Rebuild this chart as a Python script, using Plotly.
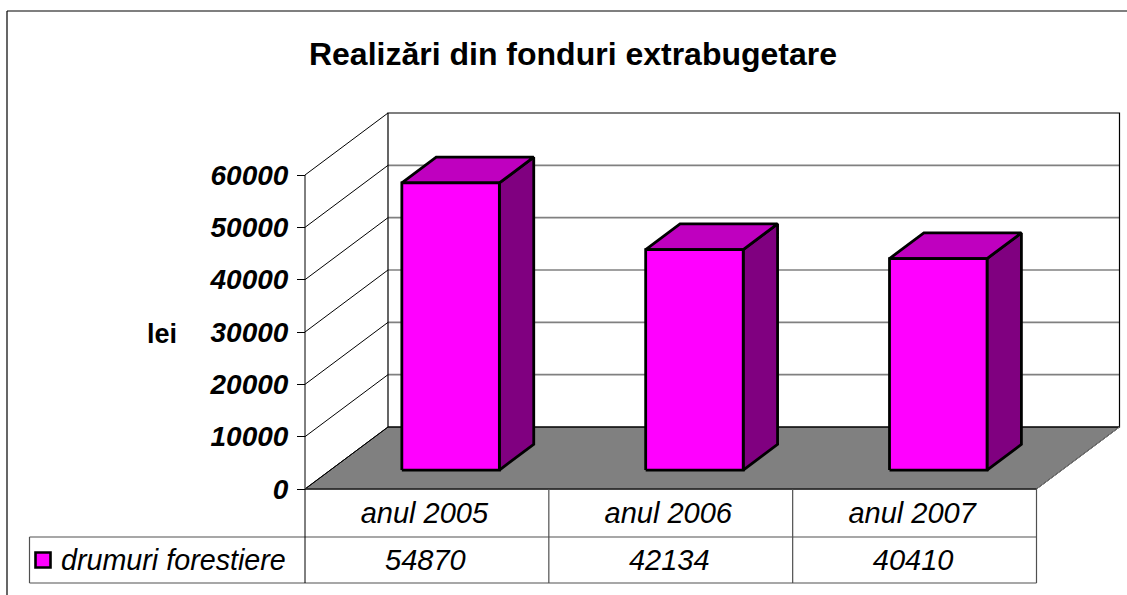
import plotly.graph_objects as go

TITLE = "Realizări din fonduri extrabugetare"
CATEGORIES = ["anul 2005", "anul 2006", "anul 2007"]
SERIES_NAME = "drumuri forestiere"
VALUES = [54870, 42134, 40410]
Y_TICKS = [0, 10000, 20000, 30000, 40000, 50000, 60000]
Y_TITLE = "lei"

W, H = 1127, 595
X0, X1 = 305.0, 1036.5      # pixel span of the category axis
Y0, Y1 = 489.0, 175.0       # pixel span of the value axis
PX_CAT = (X1 - X0) / 3
PX_VAL = (Y0 - Y1) / 60000
DX = 83.0 / PX_CAT          # depth vector, in axis units
DY = 62.0 / PX_VAL
YMAX = Y_TICKS[-1]
BAR_LEFT, BAR_W = 0.293, 0.40
D_FRONT, D_BACK = 0.306, 0.72
ROW1 = -48 / PX_VAL
ROW2 = -94 / PX_VAL
LEG_LEFT = (29.5 - X0) / PX_CAT
BLACK, GRAY = "#000000", "#808080"
FONT = "Liberation Sans"


def proj(c, v, d=0.0):
    return c + d * DX, v + d * DY


fig = go.Figure()


def poly(points, fill=None, color=BLACK, width=1.0):
    xs = [p[0] for p in points]
    ys = [p[1] for p in points]
    kw = dict(fill="toself", fillcolor=fill) if fill else {}
    fig.add_trace(go.Scatter(x=xs, y=ys, mode="lines", hoverinfo="skip",
                             showlegend=False, line=dict(color=color, width=width), **kw))


N = len(CATEGORIES)
# floor
poly([proj(0, 0), proj(N, 0), proj(N, 0, 1), proj(0, 0, 1), proj(0, 0)], fill=GRAY)
# back wall grid
for t in Y_TICKS[1:-1]:
    poly([proj(0, t, 1), proj(N, t, 1)], color=GRAY, width=1.6)
# side wall grid
for t in Y_TICKS[1:]:
    poly([proj(0, t), proj(0, t, 1)], width=1.0)
# wall frame
poly([proj(0, 0, 1), proj(0, YMAX, 1), proj(N, YMAX, 1), proj(N, 0, 1), proj(0, 0, 1)], width=1.2)
poly([proj(0, 0), proj(0, YMAX)])
poly([proj(0, 0), proj(0, 0, 1)])
poly([proj(N, 0), proj(N, 0, 1)], color=GRAY)

# bars
for i, v in enumerate(VALUES):
    l, r = i + BAR_LEFT, i + BAR_LEFT + BAR_W
    lw = 2.8
    poly([proj(r, 0, D_FRONT), proj(r, 0, D_BACK), proj(r, v, D_BACK), proj(r, v, D_FRONT), proj(r, 0, D_FRONT)],
         fill="#800080", width=lw)
    poly([proj(l, v, D_FRONT), proj(r, v, D_FRONT), proj(r, v, D_BACK), proj(l, v, D_BACK), proj(l, v, D_FRONT)],
         fill="#BF00BF", width=lw)
    poly([proj(l, 0, D_FRONT), proj(r, 0, D_FRONT), proj(r, v, D_FRONT), proj(l, v, D_FRONT), proj(l, 0, D_FRONT)],
         fill="#FF00FF", width=lw)

# data table
poly([proj(0, 0), proj(N, 0)], color="#303030", width=1.4)
poly([(LEG_LEFT, ROW1), (N, ROW1)], color="#505050", width=1.2)
poly([(LEG_LEFT, ROW2), (N, ROW2)], color="#505050", width=1.2)
poly([(LEG_LEFT, ROW1), (LEG_LEFT, ROW2)], color="#505050", width=1.2)
poly([(0, 0), (0, ROW2)], width=1.0)
for k in range(1, N + 1):
    poly([(k, 0), (k, ROW2)], color="#505050", width=1.2)

row_mid = (ROW1 + ROW2) / 2 - 3 / PX_VAL
key_mid = (ROW1 + ROW2) / 2
for i, v in enumerate(VALUES):
    fig.add_trace(go.Scatter(x=[i + 0.5 - 1.5 / PX_CAT], y=[row_mid], mode="text", text=[str(v)],
                             textposition="middle center", hoverinfo="skip",
                             showlegend=False,
                             textfont=dict(family=FONT, size=29, color=BLACK, style="italic")))
# legend key and name
fig.add_trace(go.Scatter(x=[(43 - X0) / PX_CAT], y=[key_mid], mode="markers",
                         hoverinfo="skip", showlegend=False,
                         marker=dict(symbol="square", size=15, color="#FF00FF",
                                     line=dict(color=BLACK, width=2.6))))
fig.add_trace(go.Scatter(x=[(61 - X0) / PX_CAT], y=[row_mid], mode="text", text=[SERIES_NAME],
                         textposition="middle right", hoverinfo="skip",
                         showlegend=False,
                         textfont=dict(family=FONT, size=28.7, color=BLACK, style="italic")))

fig.update_layout(
    width=W, height=H, autosize=False,
    margin=dict(l=0, r=0, t=0, b=0, pad=0),
    paper_bgcolor="white", plot_bgcolor="white",
    showlegend=False,
    title=dict(text=TITLE, x=573 / W, xanchor="center", xref="paper",
               y=1 - 54 / H, yanchor="middle", yref="container", automargin=False,
               font=dict(family=FONT, size=32, color=BLACK, weight="bold")),
    xaxis=dict(domain=[0, 1], range=[-X0 / PX_CAT, (W - X0) / PX_CAT], tickmode="array",
               tickvals=[i + 0.5 - 2.5 / PX_CAT for i in range(N)], ticktext=CATEGORIES,
               anchor="free", position=(H - Y0) / H,
               ticks="", showgrid=False, zeroline=False, showline=False,
               ticklabelstandoff=4,
               tickfont=dict(family=FONT, size=29, color=BLACK, style="italic")),
    yaxis=dict(domain=[0, 1], range=[(Y0 - H) / PX_VAL, Y0 / PX_VAL], tickmode="array",
               tickvals=Y_TICKS, ticktext=[str(t) for t in Y_TICKS],
               anchor="free", position=X0 / W,
               ticks="outside", ticklen=8, tickwidth=1, tickcolor=BLACK,
               showgrid=False, zeroline=False, showline=False,
               ticklabelstandoff=3,
               tickfont=dict(family=FONT, size=28, color=BLACK, weight="bold", style="italic")),
    annotations=[dict(text=Y_TITLE, xref="paper", yref="paper", x=162 / W, y=1 - 334 / H,
                      showarrow=False, xanchor="center", yanchor="middle",
                      font=dict(family=FONT, size=27, color=BLACK, weight="bold"))],
    shapes=[dict(type="line", xref="paper", yref="paper", x0=7 / W, x1=7 / W, y0=0, y1=1 - 11 / H,
                 line=dict(color=BLACK, width=1.2)),
            dict(type="line", xref="paper", yref="paper", x0=7 / W, x1=1, y0=1 - 11 / H, y1=1 - 11 / H,
                 line=dict(color=BLACK, width=1.2))],
)

fig.write_html("out.html", config={"displayModeBar": False},
               post_script="document.body.style.margin='0';document.body.style.overflow='hidden';")
